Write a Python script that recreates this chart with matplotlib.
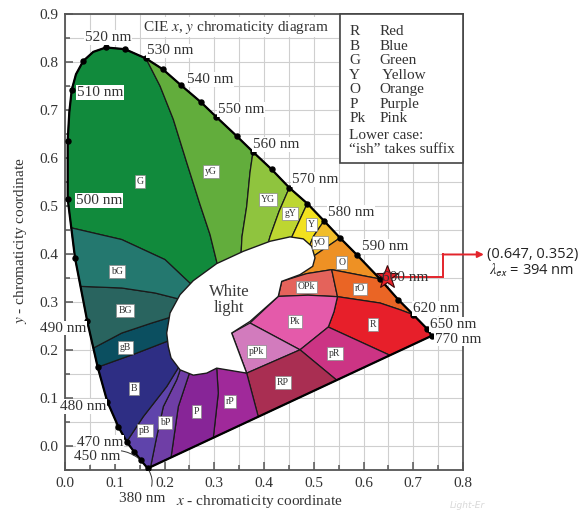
import matplotlib
matplotlib.use("Agg")
import matplotlib.pyplot as plt
import numpy as np
from matplotlib.patches import Polygon, Rectangle
from matplotlib.ticker import MultipleLocator, FormatStrFormatter

plt.rcParams["font.family"] = ["Liberation Serif", "DejaVu Serif"]
plt.rcParams["mathtext.fontset"] = "stix"

# spectral locus dots, from 380 nm round the horseshoe to 770 nm
LOCUS_NM = [380, 450, None, 470, None, 480, None, 490, None, 500, None, 510, None,
            520, None, 530, None, 540, None, 550, None, 560, None, 570, None, 580,
            None, 590, 600, None, 620, 650, 770]
LOCUS_X = [0.1662, 0.1522, 0.1387, 0.1240, 0.1071, 0.0850, 0.0657, 0.0448, 0.0201,
           0.0054, 0.0054, 0.0135, 0.0368, 0.0824, 0.1206, 0.1628, 0.1964, 0.2332,
           0.2728, 0.3035, 0.3451, 0.3779, 0.4155, 0.4509, 0.4870, 0.5206, 0.5528,
           0.5863, 0.6332, 0.6699, 0.7001, 0.7276, 0.7371]
LOCUS_Y = [-0.0466, -0.0292, -0.0119, 0.0090, 0.0403, 0.0925, 0.1643, 0.2595, 0.3919,
           0.5150, 0.6353, 0.7418, 0.8023, 0.8303, 0.8267, 0.8073, 0.7850, 0.7516,
           0.7167, 0.6862, 0.6457, 0.6127, 0.5762, 0.5380, 0.5052, 0.4691, 0.4336,
           0.3987, 0.3480, 0.3048, 0.2735, 0.2443, 0.2296]
# extra outline vertices on the rounded top-left (between dots 10-11, 11-12, 12-13)
BEND_X = [0.0086, 0.0221, 0.0569]
BEND_Y = [0.6946, 0.7745, 0.8211]

# region borders, running from the locus in towards the white centre
G_YG = [(0.1910, 0.7501), (0.2177, 0.6806), (0.2446, 0.5908), (0.2714, 0.5031),
        (0.2915, 0.4405), (0.3049, 0.3841), (0.3156, 0.3361)]          # from dot 15
YG_A = [(0.3719, 0.5699), (0.3652, 0.4990), (0.3558, 0.4363), (0.3538, 0.3987),
        (0.3518, 0.3570)]                                               # from dot 21
YG_GY = [(0.4302, 0.4885), (0.4121, 0.4363), (0.4020, 0.3987)]         # from dot 23
GY_Y = [(0.4563, 0.4363), (0.4462, 0.3987)]                             # from dot 24
Y_YO = [(0.4991, 0.4363), (0.4884, 0.4092)]                             # from dot 25
YO_O = [(0.4991, 0.3952), (0.4724, 0.3779)]                             # from dot 26
O_LOWER = [(0.5361, 0.3674), (0.4858, 0.3591), (0.4356, 0.3430)]       # from dot 28
ORANGE_RED = [(0.6734, 0.2839), (0.6332, 0.2979), (0.5477, 0.3111),
              (0.4884, 0.3142), (0.4287, 0.3117)]                       # from dot 30
PK_ARC = [(0.5477, 0.3111), (0.5407, 0.2797), (0.5292, 0.2478), (0.4724, 0.2004)]
PR_R_END = (0.6530, 0.1890)
PPK_TOP = (0.3719, 0.2562)
PPK_NOTCH = (0.3351, 0.2353)
PPK_RP = (0.3652, 0.1518)
RP_PR_END = (0.5461, 0.1372)
RP_RP_END = (0.3885, 0.0609)
P_RP = [(0.2981, 0.0172), (0.3081, 0.1100), (0.3049, 0.1622), (0.3035, 0.1795)]
BP_P = [(0.2131, -0.0239), (0.2277, 0.0820), (0.2478, 0.1447), (0.2553, 0.1691)]
PB_BP = [(0.1720, -0.0438), (0.1843, 0.0194), (0.1976, 0.0820), (0.2245, 0.1378),
         (0.2352, 0.1691)]
B_PB = [(0.1574, 0.0612), (0.2044, 0.1238), (0.2352, 0.1754)]          # from dot 3
GB_B = [(0.1441, 0.1935), (0.2044, 0.2177), (0.2312, 0.2296)]          # from dot 6
BG_GB = [(0.0570, 0.2040), (0.1140, 0.2353), (0.1743, 0.2562), (0.2151, 0.2693),
         (0.2412, 0.2797)]
BG2_BG = [(0.0312, 0.3326), (0.1140, 0.3292), (0.1809, 0.3188), (0.2346, 0.3048),
          (0.2613, 0.3048)]
G_BG = [(0.0126, 0.4545), (0.1140, 0.4301), (0.2010, 0.3883), (0.2579, 0.3326),
        (0.2814, 0.3152)]

WHITE_X = [0.2076, 0.2044, 0.2111, 0.2312, 0.2579, 0.3049, 0.3584, 0.4121, 0.4523,
           0.4790, 0.4959, 0.5025, 0.4979, 0.4724, 0.4356, 0.4287, 0.3719, 0.3351,
           0.3652, 0.3049, 0.2848, 0.2579, 0.2312, 0.2131]
WHITE_Y = [0.2073, 0.2353, 0.2770, 0.3152, 0.3445, 0.3800, 0.4056, 0.4265, 0.4357,
           0.4315, 0.4161, 0.3919, 0.3743, 0.3570, 0.3430, 0.3117, 0.2595, 0.2353,
           0.1518, 0.1622, 0.1518, 0.1476, 0.1587, 0.1837]

REGION_COLORS = {
    "G": "#118a3c", "yG": "#62ad3c", "YG": "#8fc43e", "gY": "#bdd631",
    "Y": "#f2e11f", "yO": "#f1bd2a", "O": "#ee9124", "rO": "#ea6525",
    "OPk": "#e4635b", "R": "#e71f2a", "Pk": "#e45aaa", "pPk": "#d27bbd",
    "pR": "#cc3484", "RP": "#a92e52", "rP": "#a0299a", "P": "#872597",
    "bP": "#6f3ea6", "pB": "#5f44ab", "B": "#2e2e84", "gB": "#0b4f60",
    "BG": "#29645f", "bG": "#24786f",
}
LABEL_AT = {
    "G": (0.1508, 0.5518), "yG": (0.2929, 0.5727), "YG": (0.4086, 0.5136),
    "gY": (0.4523, 0.4843), "Y": (0.4959, 0.4614), "yO": (0.5126, 0.4238),
    "O": (0.5562, 0.3814), "OPk": (0.4858, 0.3313), "rO": (0.5930, 0.3271),
    "Pk": (0.4623, 0.2595), "R": (0.6197, 0.2526), "pPk": (0.3853, 0.1969),
    "pR": (0.5427, 0.1935), "RP": (0.4376, 0.1322), "rP": (0.3317, 0.0925),
    "P": (0.2647, 0.0716), "bP": (0.2010, 0.0486), "pB": (0.1608, 0.0319),
    "B": (0.1387, 0.1205), "gB": (0.1216, 0.2056), "BG": (0.1206, 0.2825),
    "bG": (0.1039, 0.3639),
}

KEY_CODES = ["R", "B", "G", "Y", "O", "P", "Pk"]
KEY_NAMES = ["Red", "Blue", "Green", " Yellow", "Orange", "Purple", "Pink"]
KEY_NOTE = ["Lower case:", "\u201cish\u201d takes suffix"]

POINT_XY = (0.647, 0.352)
EXCITATION_NM = 394

# wavelength label offsets (points) and alignment
WL_OFFSET = {520: (-15, 7, "left"), 530: (0.5, 5.5, "left"), 540: (4, 4.3, "left"),
             550: (1.4, 5.3, "left"), 560: (0, 5.4, "left"), 570: (1.7, 6, "left"),
             580: (2.9, 6, "left"), 590: (3.6, 6, "left"), 600: (1.2, 0.7, "left"),
             620: (-0.2, 4.3, "left"), 650: (2.2, 2.9, "left"), 770: (2.4, -2.4, "left"),
             510: (3.6, -1.9, "left"), 500: (6, -1.2, "left"), 490: (-1, -4.8, "right"),
             480: (-1, -3.6, "right"), 470: (-2.4, -0.7, "right"),
             450: (-15, 2.4, "right"), 380: (-3.7, -21.8, "center")}


def loc(k):
    return (LOCUS_X[k], LOCUS_Y[k])


def locus_path(i, j):
    pts = []
    for k in range(i, j + 1):
        pts.append(loc(k))
        if 10 <= k <= 12 and k < j:
            pts.append((BEND_X[k - 10], BEND_Y[k - 10]))
    return pts


hub = PK_ARC[-1]
regions = {
    "G": [G_BG[0]] + locus_path(9, 15) + G_YG + G_BG[:0:-1],
    "yG": locus_path(15, 21) + YG_A + G_YG[::-1],
    "YG": locus_path(21, 23) + YG_GY + YG_A[::-1],
    "gY": locus_path(23, 24) + GY_Y + YG_GY[::-1],
    "Y": locus_path(24, 25) + Y_YO + GY_Y[::-1],
    "yO": locus_path(25, 26) + YO_O + Y_YO[::-1],
    "O": locus_path(26, 28) + O_LOWER + YO_O[::-1],
    "OPk": O_LOWER[::-1] + ORANGE_RED[2:],
    "rO": [O_LOWER[0]] + locus_path(28, 30) + ORANGE_RED[:3],
    "R": locus_path(30, 32) + [PR_R_END, PK_ARC[2]] + PK_ARC[1::-1] + ORANGE_RED[1::-1],
    "Pk": ORANGE_RED[2:][::-1] + PK_ARC[1:] + [PPK_TOP],
    "pR": [hub, PK_ARC[2], PR_R_END, RP_PR_END],
    "pPk": [PPK_TOP, hub, PPK_RP, PPK_NOTCH],
    "RP": [PPK_RP, hub, RP_PR_END, RP_RP_END],
    "rP": [P_RP[0], RP_RP_END, PPK_RP] + P_RP[:0:-1],
    "P": P_RP + BP_P[::-1],
    "bP": BP_P + PB_BP[::-1],
    "pB": locus_path(0, 3)[::-1] + PB_BP + B_PB[::-1],
    "B": locus_path(3, 6) + GB_B + B_PB[::-1],
    "gB": [loc(6)] + BG_GB + GB_B[::-1],
    "BG": [BG_GB[0], loc(7)] + BG2_BG + BG_GB[:0:-1],
    "bG": [BG2_BG[0], loc(8)] + G_BG + BG2_BG[:0:-1],
}

fig = plt.figure(figsize=(5.84, 5.12), dpi=100)
ax = fig.add_axes([65 / 584, 42 / 512, 398 / 584, 456 / 512])
ax.set_xlim(0, 0.8)
ax.set_ylim(-0.05, 0.9)

ax.xaxis.set_major_locator(MultipleLocator(0.1))
ax.yaxis.set_major_locator(MultipleLocator(0.1))
ax.xaxis.set_minor_locator(MultipleLocator(0.05))
ax.yaxis.set_minor_locator(MultipleLocator(0.05))
ax.xaxis.set_major_formatter(FormatStrFormatter("%.1f"))
ax.yaxis.set_major_formatter(FormatStrFormatter("%.1f"))
ax.grid(which="both", color="#cfcfcf", lw=0.8)
ax.set_axisbelow(True)
ax.tick_params(which="both", direction="in", color="#555555", width=1.1,
               labelsize=11, labelcolor="#333333")
ax.tick_params(which="major", length=5.8, pad=5)
ax.tick_params(which="minor", length=3.6)
for sp in ax.spines.values():
    sp.set_color("#555555")
    sp.set_linewidth(1.3)

for name, pts in regions.items():
    ax.add_patch(Polygon(pts, closed=True, fc=REGION_COLORS[name], ec="#1a1a1a",
                         lw=0.9, zorder=2))
ax.add_patch(Polygon(list(zip(WHITE_X, WHITE_Y)), closed=True, fc="white",
                     ec="#1a1a1a", lw=1.0, zorder=3))
ax.add_patch(Polygon(locus_path(0, 32), closed=True, fill=False, ec="black",
                     lw=1.6, zorder=4))
ax.plot(LOCUS_X, LOCUS_Y, "o", ms=3.6, color="black", zorder=5)

for name, (lx, ly) in LABEL_AT.items():
    ax.text(lx, ly, name, fontsize=7, ha="center", va="center", color="#333333",
            zorder=6, bbox=dict(boxstyle="square,pad=0.2", fc="white", ec="#888888", lw=0.5))

ax.text(0.3296, 0.3048, "White\nlight", fontsize=12, ha="center", va="center",
        color="#3a3a3a", linespacing=1.0, zorder=6)

# wavelength labels
for k, nm in enumerate(LOCUS_NM):
    if nm is None:
        continue
    dx, dy, ha = WL_OFFSET[nm]
    arrow = None
    if nm == 450:
        arrow = dict(arrowstyle="-", lw=0.7, color="#333333", shrinkA=0, shrinkB=2,
                     connectionstyle="arc3,rad=-0.35")
    elif nm == 380:
        arrow = dict(arrowstyle="-", lw=0.7, color="#333333", shrinkA=4, shrinkB=2,
                     connectionstyle="arc3,rad=0.45")
    # the 600 nm label sits on top of the star, so it gets no backing box
    box = None if nm == 600 else dict(boxstyle="square,pad=0.05", fc="white", ec="none")
    ax.annotate(f"{nm} nm", xy=loc(k), xytext=(dx, dy), textcoords="offset points",
                ha=ha, va="center", fontsize=11, color="#333333",
                zorder=9 if nm == 600 else 6,
                annotation_clip=False, arrowprops=arrow, bbox=box)

ax.text(0.1568, 0.872, "CIE $x$, $y$ chromaticity diagram", fontsize=11,
        va="center", ha="left", color="#333333", zorder=6,
        bbox=dict(boxstyle="square,pad=0.1", fc="white", ec="none"))

# colour key
ax.add_patch(Rectangle((0.5528, 0.5887), 0.8 - 0.5528, 0.9 - 0.5887, fc="white",
                       ec="#444444", lw=1.2, zorder=6, clip_on=False))
key_y0, key_step = 0.8629, -0.0302
for i, (code, nm) in enumerate(zip(KEY_CODES, KEY_NAMES)):
    yy = key_y0 + i * key_step
    ax.text(0.5714, yy, code, fontsize=11, va="center", ha="left", color="#333333", zorder=7)
    ax.text(0.6318, yy, nm, fontsize=11, va="center", ha="left", color="#333333", zorder=7)
for i, line in enumerate(KEY_NOTE):
    yy = key_y0 + (len(KEY_CODES) + i) * key_step - 0.004
    ax.text(0.5714, yy, line, fontsize=11, va="center", ha="left", color="#333333", zorder=7)

# measured point and its call-out
RED = "#e3242b"
ax.plot([POINT_XY[0], 0.760, 0.760], [POINT_XY[1], POINT_XY[1], 0.399], color=RED,
        lw=1.4, clip_on=False, zorder=7, solid_joinstyle="miter")
ax.annotate("", xy=(0.842, 0.399), xytext=(0.759, 0.399),
            arrowprops=dict(arrowstyle="-|>", color=RED, lw=1.4, mutation_scale=9,
                            shrinkA=0, shrinkB=0), annotation_clip=False, zorder=7)
ax.plot(*POINT_XY, marker="*", ms=17, mfc="#e8202a", mec="#3a0808", mew=0.8,
        zorder=8, clip_on=False)
ax.text(0.849, 0.399, f"({POINT_XY[0]:.3f}, {POINT_XY[1]:.3f})", fontsize=10.5,
        family="Open Sans", va="center", ha="left", color="#222222", clip_on=False)
ax.text(0.853, 0.366, r"$\lambda_{\mathsf{ex}}$" + f" = {EXCITATION_NM} nm", fontsize=10.5,
        family="Open Sans", va="center", ha="left", color="#222222", clip_on=False)

fig.text(259 / 584, 1 - 502 / 512, "$x$ - chromaticity coordinate", fontsize=11,
         ha="center", va="center", color="#333333")
fig.text(21 / 584, 1 - 241 / 512, "$y$ - chromaticity coordinate", fontsize=11,
         ha="center", va="center", rotation=90, color="#333333")
fig.text(450 / 584, 1 - 505 / 512, "Light-Er", fontsize=6.5, style="italic",
         family="DejaVu Sans", color="#d8d8d8", ha="left", va="center")

fig.savefig("out.png", dpi=100)
